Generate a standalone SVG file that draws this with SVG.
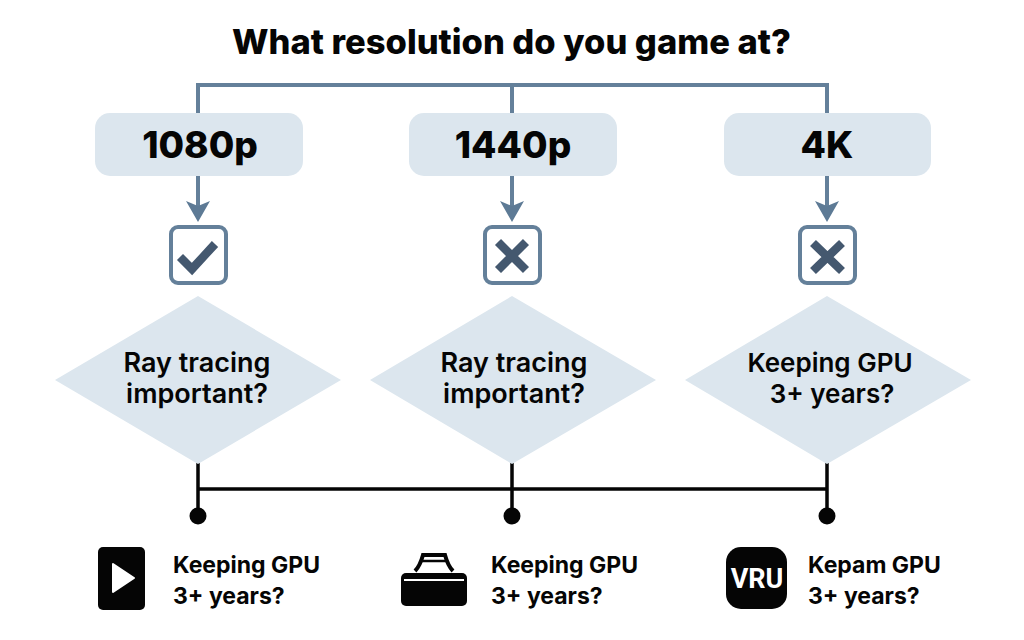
<svg xmlns="http://www.w3.org/2000/svg" width="1024" height="640" viewBox="0 0 1024 640">
<defs><style>
text{font-family:Inter,"Liberation Sans",sans-serif;fill:#050505;text-anchor:middle}
.t{font-size:34.5px;font-weight:800}
.h{font-size:37px;font-weight:800}
.d{font-size:27px;font-weight:600}
.d2{font-size:26px;font-weight:600}
.l{font-size:23px;font-weight:700;text-anchor:start}
.box{fill:#dce6ee}
.up{fill:none;stroke:#64809a;stroke-width:4}
.head{fill:#5d7a95}
.chk{fill:#fff;stroke:#64809a;stroke-width:4}
.sym{fill:none;stroke:#44586f;stroke-width:8.5}
.blk{fill:none;stroke:#050505;stroke-width:3.5}
.ink{fill:#050505}
</style></defs>
<rect width="1024" height="640" fill="#fff"/>
<text class="t" x="511.5" y="54">What resolution do you game at?</text>
<g id="connectors">
<path class="up" d="M198 113V85H827V113M512 85V113"/>
<path class="up" d="M198 176V208M512 176V208M827 176V208"/>
<path class="head" d="M186 201L198 206L210 201L198 222Z"/>
<path class="head" d="M500 201L512 206L524 201L512 222Z"/>
<path class="head" d="M815 201L827 206L839 201L827 222Z"/>
<path class="blk" d="M198 463V516M512 463V516M827 463V516M198 489H827"/>
<circle class="ink" cx="198" cy="516" r="8.5"/>
<circle class="ink" cx="512" cy="516" r="8.5"/>
<circle class="ink" cx="827" cy="516" r="8.5"/>
</g>
<g id="n1080"><rect class="box" x="95" y="113" width="208" height="63" rx="15"/><text class="h" x="200" y="158">1080p</text></g>
<g id="n1440"><rect class="box" x="409" y="113" width="208" height="63" rx="15"/><text class="h" x="513" y="158">1440p</text></g>
<g id="n4k"><rect class="box" x="724" y="113" width="207" height="63" rx="15"/><text class="h" x="827" y="158">4K</text></g>
<g id="check1"><rect class="chk" x="171" y="227" width="55" height="56" rx="7"/><path class="sym" d="M180 257L192 269L215 244"/></g>
<g id="cross2"><rect class="chk" x="485" y="227" width="55" height="56" rx="7"/><path class="sym" d="M498 242L526 270M526 242L498 270"/></g>
<g id="cross3"><rect class="chk" x="800" y="227" width="55" height="56" rx="7"/><path class="sym" d="M813 243L842 271M842 243L813 271"/></g>
<g id="d1"><path class="box" d="M198 296L341 380L198 464L55 380Z"/><text class="d" x="197" y="372">Ray tracing</text><text class="d" x="197" y="403">important?</text></g>
<g id="d2"><path class="box" d="M512 296L656 380L512 464L370 380Z"/><text class="d" x="514" y="372">Ray tracing</text><text class="d" x="514" y="403">important?</text></g>
<g id="d3"><path class="box" d="M827 296L971 380L827 464L685 380Z"/><text class="d2" x="830" y="372">Keeping GPU</text><text class="d2" x="832" y="403">3+ years?</text></g>
<g id="o1"><rect class="ink" x="98" y="547" width="47" height="63" rx="5"/><path d="M113 564L134 578L113 592Z" fill="#fff" stroke="#fff" stroke-width="2" stroke-linejoin="round"/><text class="l" x="173" y="573">Keeping GPU</text><text class="l" x="173" y="604">3+ years?</text></g>
<g id="o2"><rect class="ink" x="401" y="573" width="66" height="33" rx="5"/><path d="M404 580H464" stroke="#fff" stroke-width="2"/><path d="M415 571Q420 566 423 555H445Q448 566 453 571" fill="none" stroke="#050505" stroke-width="4"/><path d="M421 561H447" stroke="#050505" stroke-width="2.5"/><text class="l" x="491" y="573">Keeping GPU</text><text class="l" x="491" y="604">3+ years?</text></g>
<g id="o3"><rect class="ink" x="726" y="547" width="61" height="62" rx="15"/><text x="757" y="588" style="fill:#fff;font-size:27px;font-weight:700;font-family:'Liberation Sans Narrow','Roboto',sans-serif">VRU</text><text class="l" x="808" y="573">Kepam GPU</text><text class="l" x="808" y="604">3+ years?</text></g>
</svg>
